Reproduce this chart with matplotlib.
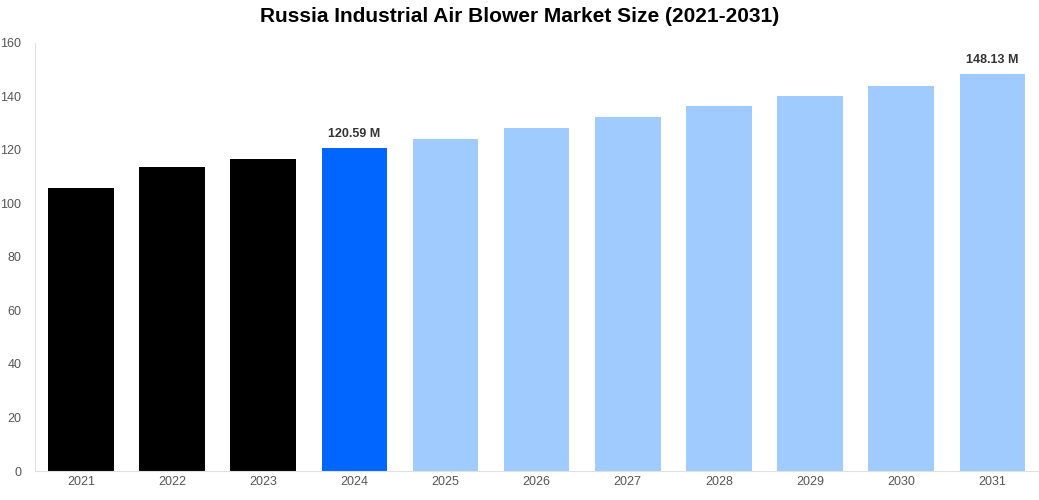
import matplotlib
matplotlib.use("Agg")
import matplotlib.pyplot as plt

years = ["2021","2022","2023","2024","2025","2026","2027","2028","2029","2030","2031"]
values = [105.8, 113.6, 116.6, 120.59, 124.1, 128.2, 132.3, 136.4, 140.2, 143.9, 148.13]
colors = ["#000000"]*3 + ["#0066ff"] + ["#a0cbff"]*7
labels = {3: "120.59 M", 10: "148.13 M"}

plt.rcParams['font.family'] = ['Liberation Sans', 'DejaVu Sans']
fig = plt.figure(figsize=(10.39, 5.0), dpi=100)
ax = fig.add_axes([0.034, 0.058, 0.965, 0.857])
x = range(len(years))
ax.bar(x, values, width=0.72, color=colors)
for i, t in labels.items():
    ax.text(i, values[i] + 3, t, ha='center', va='bottom', fontsize=9, fontweight='bold', color='#333333')
ax.set_ylim(0, 160)
ax.set_xlim(-0.5, len(years) - 0.5)
ax.set_yticks(range(0, 161, 20))
ax.set_xticks(list(x))
ax.set_xticklabels(years)
ax.tick_params(axis='both', length=0, labelsize=9, colors='#555555')
ax.tick_params(axis='y', pad=10)
for s in ['top', 'right']:
    ax.spines[s].set_visible(False)
ax.spines['left'].set_color('#e0e0e0')
ax.spines['bottom'].set_color('#e0e0e0')
fig.suptitle("Russia Industrial Air Blower Market Size (2021-2031)", fontsize=15, fontweight='bold', y=0.985)
fig.savefig("out.png", dpi=100)
